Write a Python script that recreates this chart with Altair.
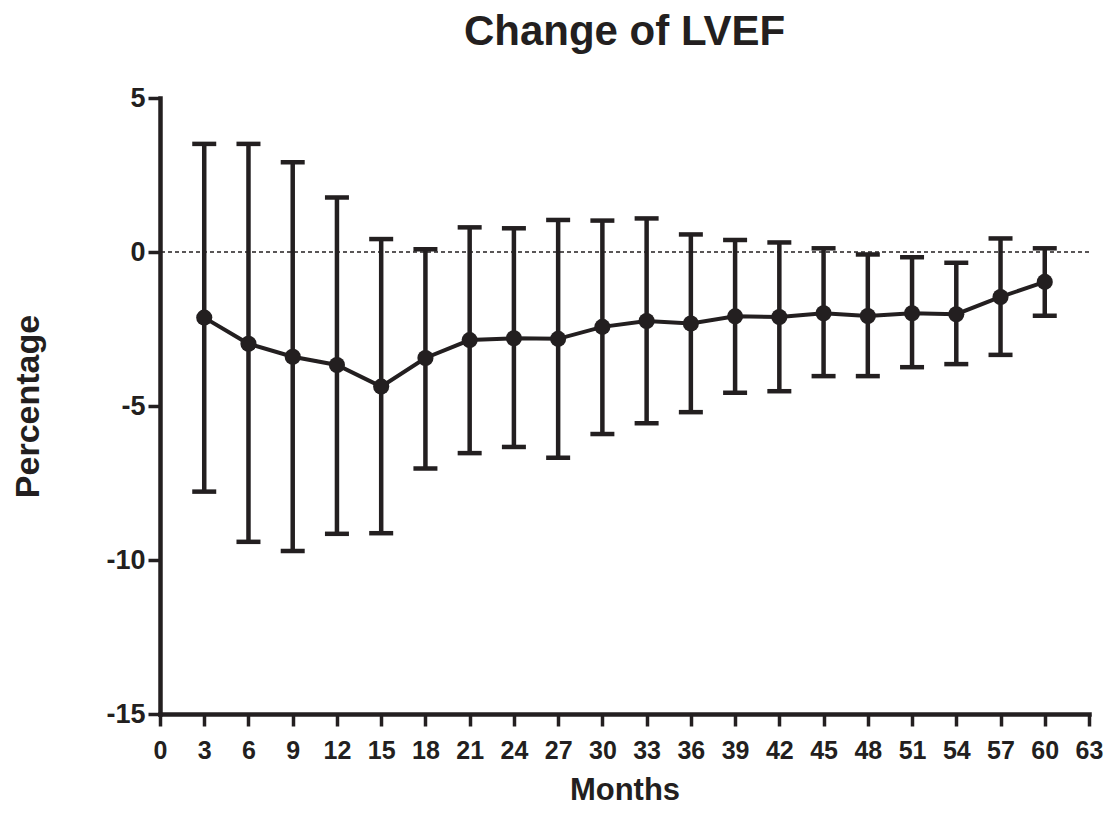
import altair as alt
import pandas as pd

months = [3, 6, 9, 12, 15, 18, 21, 24, 27, 30, 33, 36, 39, 42, 45, 48, 51, 54, 57, 60]
mean = [-2.13, -2.98, -3.40, -3.67, -4.37, -3.44, -2.86, -2.80, -2.82, -2.43,
        -2.24, -2.32, -2.09, -2.11, -1.99, -2.08, -1.99, -2.02, -1.46, -0.97]
upper = [3.51, 3.51, 2.91, 1.77, 0.42, 0.09, 0.80, 0.77, 1.04, 1.02,
         1.09, 0.57, 0.39, 0.31, 0.12, -0.08, -0.17, -0.35, 0.44, 0.12]
lower = [-7.78, -9.41, -9.71, -9.15, -9.13, -7.03, -6.53, -6.33, -6.68, -5.91,
         -5.56, -5.20, -4.57, -4.52, -4.03, -4.03, -3.74, -3.64, -3.34, -2.07]
x_ticks = list(range(0, 64, 3))
y_ticks = [5, 0, -5, -10, -15]

df = pd.DataFrame({"month": months, "mean": mean, "upper": upper, "lower": lower})
zero = pd.DataFrame({"y": [0]})

INK = "#231f20"
FONT = "Liberation Sans Narrow, Arial Narrow, Liberation Sans, Arial"

xscale = alt.Scale(domain=[0, 63], nice=False, zero=False)
yscale = alt.Scale(domain=[-15, 5], nice=False, zero=False)

xaxis = alt.Axis(values=x_ticks, title="Months", grid=False,
                 domainWidth=4.5, domainColor=INK, tickWidth=3.5, tickColor=INK,
                 tickSize=12, labelFont=FONT, labelFontSize=25, labelFontWeight="bold",
                 labelColor=INK, labelPadding=12, titleFont=FONT, titleFontSize=31,
                 titleFontWeight="bold", titleColor=INK, titlePadding=12,
                 labelFlush=False, labelOverlap=False, domainCap="square",
                 labelExpr="'' + datum.value")
yaxis = alt.Axis(values=y_ticks, title="Percentage", grid=False,
                 domainWidth=4.5, domainColor=INK, tickWidth=3.5, tickColor=INK,
                 tickSize=12, labelFont=FONT, labelFontSize=27, labelFontWeight="bold",
                 labelColor=INK, labelPadding=3, titleFont=FONT, titleFontSize=34,
                 titleFontWeight="bold", titleColor=INK, titlePadding=60,
                 labelFlush=False, domainCap="square",
                 labelExpr="'' + datum.value")

base = alt.Chart(df)

zline = alt.Chart(zero).mark_rule(color=INK, strokeWidth=1.5, strokeDash=[4, 3]).encode(
    y=alt.Y("y:Q", scale=yscale, axis=yaxis)
)

bars = base.mark_rule(color=INK, strokeWidth=4.5).encode(
    x=alt.X("month:Q", scale=xscale, axis=xaxis),
    y=alt.Y("lower:Q", scale=yscale, axis=yaxis),
    y2="upper:Q",
)

cap_up = base.mark_tick(color=INK, orient="horizontal", size=24, thickness=4.5,
                        opacity=1).encode(
    x=alt.X("month:Q", scale=xscale),
    y=alt.Y("upper:Q", scale=yscale),
)
cap_lo = base.mark_tick(color=INK, orient="horizontal", size=24, thickness=4.5,
                        opacity=1).encode(
    x=alt.X("month:Q", scale=xscale),
    y=alt.Y("lower:Q", scale=yscale),
)

line = base.mark_line(color=INK, strokeWidth=4).encode(
    x=alt.X("month:Q", scale=xscale),
    y=alt.Y("mean:Q", scale=yscale),
)
pts = base.mark_point(color=INK, filled=True, opacity=1, size=260).encode(
    x=alt.X("month:Q", scale=xscale),
    y=alt.Y("mean:Q", scale=yscale),
)

chart = alt.layer(zline, bars, cap_up, cap_lo, line, pts).properties(
    width=929, height=616,
    title=alt.TitleParams("Change of LVEF", font=FONT, fontSize=42, fontWeight="bold",
                          color=INK, anchor="middle", offset=30),
    autosize=alt.AutoSizeParams(type="none"),
    padding={"left": 152, "top": 90, "right": 15, "bottom": 93},
    background="white",
).configure_view(strokeWidth=0, stroke="transparent")

chart.save("out.html", embed_options={"renderer": "svg", "actions": False})
